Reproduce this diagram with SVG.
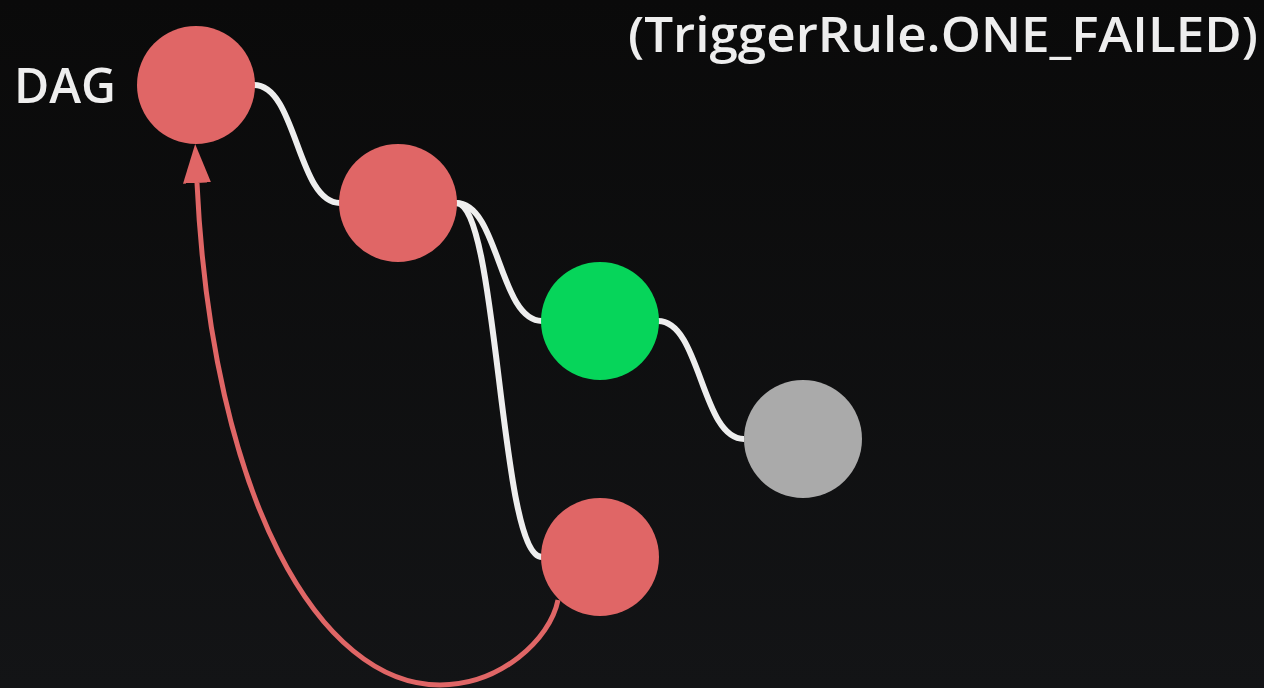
<svg xmlns="http://www.w3.org/2000/svg" width="1264" height="688" viewBox="0 0 1264 688">
  <defs>
    <linearGradient id="bg" x1="0" y1="0" x2="0" y2="1">
      <stop offset="0" stop-color="#0a0a0a"/>
      <stop offset="1" stop-color="#131416"/>
    </linearGradient>
    <marker id="arrow" markerUnits="userSpaceOnUse" viewBox="0 0 39 28" refX="0" refY="14" markerWidth="39" markerHeight="28" orient="auto">
      <path d="M0,0 L39,14 L0,28 Z" fill="#e06666"/>
    </marker>
    <style>
      .edge { fill: none; stroke: #eeeeee; stroke-width: 6; }
      .back { fill: none; stroke: #e06666; stroke-width: 5; }
      .red { fill: #e06666; }
      .green { fill: #06d55a; }
      .gray { fill: #aaaaaa; }
      .label { fill: #eeeeee; font-family: "Open Sans", "Liberation Sans", sans-serif; font-weight: 600; }
      .title { font-weight: 550; }
    </style>
  </defs>
  <rect width="1264" height="688" fill="url(#bg)"/>

  <text class="label title" x="1258" y="52" text-anchor="end" font-size="49" textLength="630" lengthAdjust="spacingAndGlyphs">(TriggerRule.ONE_FAILED)</text>

  <g id="connectors">
    <path class="edge" d="M254,85 C297,85 297,203 340,203"/>
    <path class="edge" d="M456,203 C499,203 499,321 542,321"/>
    <path class="edge" d="M456,203 C499,203 499,557 542,557"/>
    <path class="edge" d="M658,321 C701,321 701,439 744,439"/>
    <path class="back" d="M558,600 C550,640 500,685 440,685 C320,685 212,500 197,183" marker-end="url(#arrow)"/>
  </g>

  <g id="node-dag">
    <text class="label" x="14" y="103" font-size="48" textLength="102" lengthAdjust="spacingAndGlyphs">DAG</text>
    <circle class="red" cx="196" cy="85" r="59"/>
  </g>
  <g id="node-2">
    <circle class="red" cx="398" cy="203" r="59"/>
  </g>
  <g id="node-3">
    <circle class="green" cx="600" cy="321" r="59"/>
  </g>
  <g id="node-4">
    <circle class="gray" cx="803" cy="439" r="59"/>
  </g>
  <g id="node-5">
    <circle class="red" cx="600" cy="557" r="59"/>
  </g>
</svg>
